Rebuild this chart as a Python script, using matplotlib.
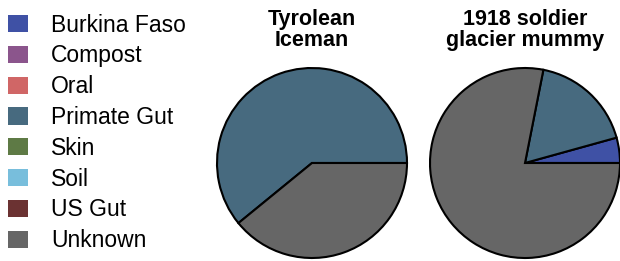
import matplotlib
matplotlib.use("Agg")
import matplotlib.pyplot as plt
from matplotlib.patches import Patch

plt.rcParams['font.family'] = ['Liberation Sans', 'DejaVu Sans']

categories = ["Burkina Faso", "Compost", "Oral", "Primate Gut", "Skin", "Soil", "US Gut", "Unknown"]
colors = ["#3F51A5", "#8B558C", "#D06666", "#476A7F", "#5E7A45", "#78BEDC", "#6B3232", "#666666"]
titles = ["Tyrolean\nIceman", "1918 soldier\nglacier mummy"]
iceman = [0, 0, 0, 60.9, 0, 0, 0, 39.1]
mummy = [4.3, 0, 0, 17.6, 0, 0, 0, 78.1]

W, H = 620, 261
fig = plt.figure(figsize=(W / 100, H / 100), dpi=100)

def px_axes(x0, y_top, w, h):
    return fig.add_axes([x0 / W, (H - y_top - h) / H, w / W, h / H])

r = 95
centers = [(312, 163), (525, 163)]
for (cx, cy), vals, title in zip(centers, [iceman, mummy], titles):
    ax = px_axes(cx - r, cy - r, 2 * r, 2 * r)
    v = [x for x in vals if x > 0]
    c = [col for x, col in zip(vals, colors) if x > 0]
    ax.pie(v, colors=c, startangle=0, counterclock=True,
           wedgeprops=dict(edgecolor="black", linewidth=1.5))
    ax.set_xlim(-1.0, 1.0)
    ax.set_ylim(-1.0, 1.0)
    ax.set_aspect('equal')
    ax.axis('off')
    fig.text(cx / W, (H - 9) / H, title, ha='center', va='top',
             fontsize=15.5, fontweight='bold', linespacing=1.02)

handles = [Patch(facecolor=col, edgecolor='none', label=lab) for col, lab in zip(colors, categories)]
fig.legend(handles=handles, loc='upper left', bbox_to_anchor=(-5 / W, 1.0 - 1 / H),
           frameon=False, fontsize=16.5, handlelength=0.9, handleheight=0.78,
           handletextpad=1.0, labelspacing=0.34, borderaxespad=0.0,
           borderpad=0.55)

fig.savefig("out.png", dpi=100)
